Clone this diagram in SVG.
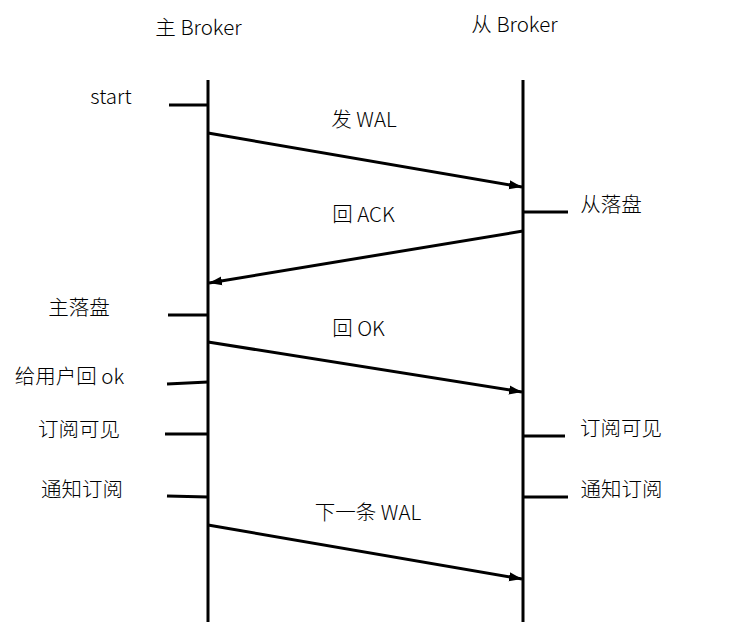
<svg xmlns="http://www.w3.org/2000/svg" width="738" height="635" viewBox="0 0 738 635">
<style>
text{font-family:"Noto Sans CJK SC","Liberation Sans",sans-serif;font-size:20.5px;fill:#000;text-anchor:middle;font-weight:300}
.life{stroke:#000;stroke-width:3;fill:none}
.tick{stroke:#000;stroke-width:2.8;fill:none}
.msg{stroke:#000;stroke-width:3;fill:none;marker-end:url(#ah)}
</style>
<defs>
<marker id="ah" markerUnits="userSpaceOnUse" markerWidth="14" markerHeight="10" refX="13" refY="5" orient="auto">
<path d="M0,0.5 L13,5 L0,9.5 z" fill="#000"/>
</marker>
</defs>
<rect width="738" height="635" fill="#fff"/>
<g id="master">
<text x="198.5" y="35">主 Broker</text>
<line class="life" x1="208" y1="80" x2="208" y2="622"/>
</g>
<g id="slave">
<text x="514.5" y="32">从 Broker</text>
<line class="life" x1="523" y1="80" x2="523" y2="622"/>
</g>
<g id="ev-start">
<line class="tick" x1="169" y1="105" x2="208" y2="105"/>
<text x="111" y="104">start</text>
</g>
<g id="ev-slave-flush">
<line class="tick" x1="523" y1="212" x2="568" y2="212"/>
<text x="611" y="212">从落盘</text>
</g>
<g id="ev-master-flush">
<line class="tick" x1="168" y1="315" x2="208" y2="315"/>
<text x="79" y="315">主落盘</text>
</g>
<g id="ev-reply-user">
<line class="tick" x1="167" y1="384" x2="208" y2="382"/>
<text x="69.5" y="384">给用户回 ok</text>
</g>
<g id="ev-master-visible">
<line class="tick" x1="165" y1="434" x2="208" y2="434"/>
<text x="79" y="437">订阅可见</text>
</g>
<g id="ev-master-notify">
<line class="tick" x1="167" y1="496" x2="208" y2="497"/>
<text x="82" y="497">通知订阅</text>
</g>
<g id="ev-slave-visible">
<line class="tick" x1="523" y1="436" x2="565" y2="436"/>
<text x="621" y="436">订阅可见</text>
</g>
<g id="ev-slave-notify">
<line class="tick" x1="523" y1="497" x2="568" y2="497"/>
<text x="621.5" y="497">通知订阅</text>
</g>
<g id="connectors">
<line class="msg" x1="208" y1="133" x2="522" y2="187"/>
<text x="364" y="127">发 WAL</text>
<line class="msg" x1="523" y1="231" x2="209" y2="283"/>
<text x="363.5" y="222">回 ACK</text>
<line class="msg" x1="208" y1="342" x2="522" y2="392"/>
<text x="358.5" y="336">回 OK</text>
<line class="msg" x1="208" y1="525" x2="522" y2="579"/>
<text x="368" y="520">下一条 WAL</text>
</g>
</svg>
